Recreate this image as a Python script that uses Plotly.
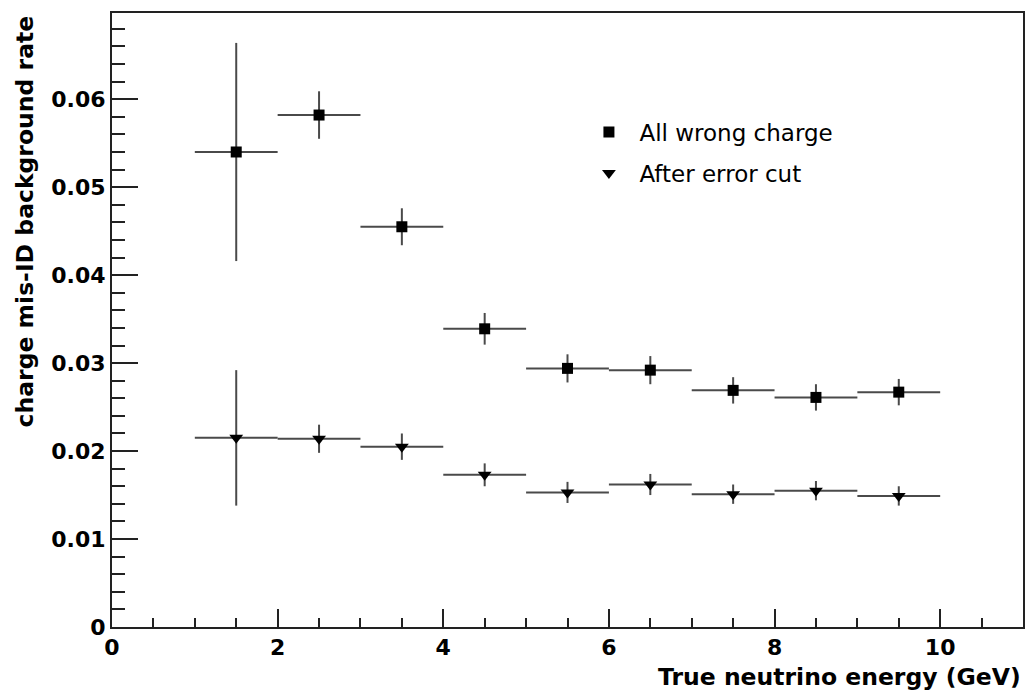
import plotly.graph_objects as go

# Bin centres (GeV) and half-widths of the energy bins
energy = [1.5, 2.5, 3.5, 4.5, 5.5, 6.5, 7.5, 8.5, 9.5]
bin_half = [0.5] * 9

# Charge mis-ID rate, all wrong-charge events
rate_all = [0.0540, 0.0582, 0.0455, 0.0339, 0.0294, 0.0292, 0.0269, 0.0261, 0.0267]
err_all = [0.0124, 0.0027, 0.0021, 0.0018, 0.0016, 0.0016, 0.0015, 0.0015, 0.0015]

# Charge mis-ID rate after the error cut
rate_cut = [0.0215, 0.0214, 0.0205, 0.0173, 0.0153, 0.0162, 0.0151, 0.0155, 0.0149]
err_cut = [0.0077, 0.0016, 0.0015, 0.0013, 0.0012, 0.0012, 0.0011, 0.0011, 0.0011]

# Axis tick positions and labels
x_ticks = [0, 2, 4, 6, 8, 10]
x_labels = ["0", "2", "4", "6", "8", "10"]
y_ticks = [0, 0.01, 0.02, 0.03, 0.04, 0.05, 0.06]
y_labels = ["0", "0.01", "0.02", "0.03", "0.04", "0.05", "0.06"]

FONT = "DejaVu Sans"
BAR = "#4a4a4a"
TITLE_FONT = dict(family=FONT, size=23.5, color="black", weight="bold")

fig = go.Figure()

fig.add_trace(go.Scatter(
    x=energy, y=rate_all, mode="markers", name="All wrong charge",
    legendgroup="a",
    marker=dict(symbol="square", size=11, color="black"),
    error_x=dict(type="data", array=bin_half, width=0, thickness=2, color=BAR),
    error_y=dict(type="data", array=err_all, width=0, thickness=2, color=BAR),
))
fig.add_trace(go.Scatter(
    x=energy, y=rate_cut, mode="markers", name="After error cut",
    legendgroup="b",
    marker=dict(symbol="triangle-down", size=12, color="black"),
    error_x=dict(type="data", array=bin_half, width=0, thickness=2, color=BAR),
    error_y=dict(type="data", array=err_cut, width=0, thickness=2, color=BAR),
))

axis_common = dict(
    showgrid=False, zeroline=False,
    showline=True, linecolor="#222", linewidth=2, mirror=True,
    ticks="inside", tickcolor="#222", tickwidth=1.5,
    tickfont=dict(family=FONT, size=22, color="black", weight="bold"),
)

fig.update_xaxes(
    range=[0, 11], tickvals=x_ticks, ticktext=x_labels, ticklen=18,
    minor=dict(dtick=0.5, tick0=0, ticks="inside", ticklen=9, tickcolor="#222", tickwidth=1.5),
    **axis_common,
)
fig.update_yaxes(
    range=[0, 0.0698], tickvals=y_ticks, ticktext=y_labels, ticklen=26,
    minor=dict(dtick=0.002, tick0=0, ticks="inside", ticklen=13, tickcolor="#222", tickwidth=1.5),
    **axis_common,
)

# Axis titles placed at the far ends of the axes
fig.add_annotation(
    text="True neutrino energy (GeV)", xref="paper", yref="paper",
    x=1.0, y=-0.082, xanchor="right", yanchor="middle",
    showarrow=False, font=TITLE_FONT,
)
fig.add_annotation(
    text="charge mis-ID background rate", xref="paper", yref="paper",
    x=-0.095, y=1.0, xanchor="center", yanchor="top", textangle=-90,
    showarrow=False, font=TITLE_FONT,
)

fig.update_layout(
    width=1036, height=693,
    margin=dict(l=112, r=13, t=11, b=66),
    paper_bgcolor="white", plot_bgcolor="white",
    showlegend=True,
    legend=dict(
        x=0.512, y=0.841, xanchor="left", yanchor="top",
        itemwidth=51,
        bgcolor="rgba(0,0,0,0)", traceorder="grouped", tracegroupgap=8,
        font=dict(family=FONT, size=23, color="black"),
    ),
)

fig.write_html("out.html")
